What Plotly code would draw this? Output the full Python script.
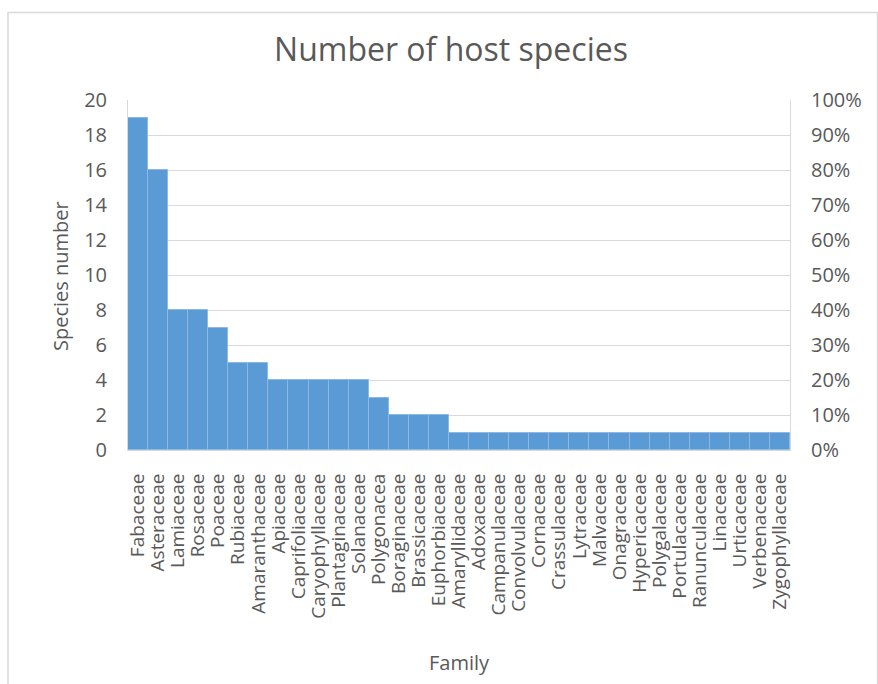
import plotly.graph_objects as go

# Host plant families and the number of host species in each
families = [
    "Fabaceae", "Asteraceae", "Lamiaceae", "Rosaceae", "Poaceae", "Rubiaceae",
    "Amaranthaceae", "Apiaceae", "Caprifoliaceae", "Caryophyllaceae",
    "Plantaginaceae", "Solanaceae", "Polygonacea", "Boraginaceae",
    "Brassicaceae", "Euphorbiaceae", "Amaryllidaceae", "Adoxaceae",
    "Campanulaceae", "Convolvulaceae", "Cornaceae", "Crassulaceae",
    "Lytraceae", "Malvaceae", "Onagraceae", "Hypericaceae", "Polygalaceae",
    "Portulacaceae", "Ranunculaceae", "Linaceae", "Urticaceae",
    "Verbenaceae", "Zygophyllaceae",
]
species_counts = [19, 16, 8, 8, 7, 5, 5, 4, 4, 4, 4, 4, 3, 2, 2, 2,
                  1, 1, 1, 1, 1, 1, 1, 1, 1, 1, 1, 1, 1, 1, 1, 1, 1]

left_ticks = list(range(0, 21, 2))
right_ticks = [i / 10 for i in range(11)]

FONT = "Open Sans"
TEXT = "#595959"
GRID = "#D9D9D9"

W, H = 878, 684
ML, MR, MT, MB = 128, 88, 100, 234
pw, ph = W - ML - MR, H - MT - MB


def px_x(x):
    return (x - ML) / pw


def px_y(y):
    return (H - MB - y) / ph


fig = go.Figure()
fig.add_trace(go.Bar(
    x=families, y=species_counts,
    marker=dict(color="#5B9BD5", line=dict(color="#8DB8E3", width=1)),
    showlegend=False, hoverinfo="x+y",
))
# invisible companion trace so the percentage axis is drawn
fig.add_trace(go.Scatter(
    x=[families[0]], y=[0], yaxis="y2", mode="markers",
    marker=dict(opacity=0), showlegend=False, hoverinfo="skip",
))

fig.update_layout(
    width=W, height=H,
    margin=dict(l=ML, r=MR, t=MT, b=MB, pad=0),
    paper_bgcolor="white", plot_bgcolor="white",
    bargap=0,
    font=dict(family=FONT, color=TEXT),
    title=dict(text="Number of host species", x=451 / W, xanchor="center",
               y=1 - 50 / H, yanchor="middle",
               font=dict(size=32, family=FONT, color=TEXT)),
    xaxis=dict(
        type="category", tickangle=-90,
        range=[-0.5, len(families) - 0.5],
        tickmode="array", tickvals=families, ticktext=families,
        tickfont=dict(size=19, family=FONT, color=TEXT),
        ticks="outside", ticklen=15, tickcolor="rgba(0,0,0,0)",
        showline=True, linecolor=GRID, linewidth=1, mirror=False,
        showgrid=False,
    ),
    yaxis=dict(
        range=[0, 20], tickvals=left_ticks,
        tickfont=dict(size=20, family=FONT, color=TEXT),
        ticks="outside", ticklen=16, tickcolor="rgba(0,0,0,0)",
        showline=True, linecolor=GRID, linewidth=1,
        gridcolor=GRID, gridwidth=1, zeroline=False,
    ),
    yaxis2=dict(
        overlaying="y", side="right", range=[0, 1], tickvals=right_ticks,
        tickformat=".0%",
        tickfont=dict(size=20, family=FONT, color=TEXT),
        ticks="outside", ticklen=16, tickcolor="rgba(0,0,0,0)",
        showline=True, linecolor=GRID, linewidth=1,
        showgrid=False, zeroline=False,
    ),
)

# axis titles
fig.add_annotation(
    text="Species number", xref="paper", yref="paper",
    x=px_x(60), y=px_y(276), xanchor="center", yanchor="middle",
    textangle=-90, showarrow=False,
    font=dict(size=20, family=FONT, color=TEXT),
)
fig.add_annotation(
    text="Family", xref="paper", yref="paper",
    x=px_x(459), y=px_y(662), xanchor="center", yanchor="middle",
    showarrow=False, font=dict(size=20, family=FONT, color=TEXT),
)

# outer chart frame
fig.add_shape(
    type="rect", xref="paper", yref="paper",
    x0=px_x(8), x1=px_x(877.5),
    y0=px_y(700), y1=px_y(12.5),
    line=dict(color="#D9D9D9", width=1.5), fillcolor="rgba(0,0,0,0)",
    layer="below",
)

fig.write_html("out.html")
